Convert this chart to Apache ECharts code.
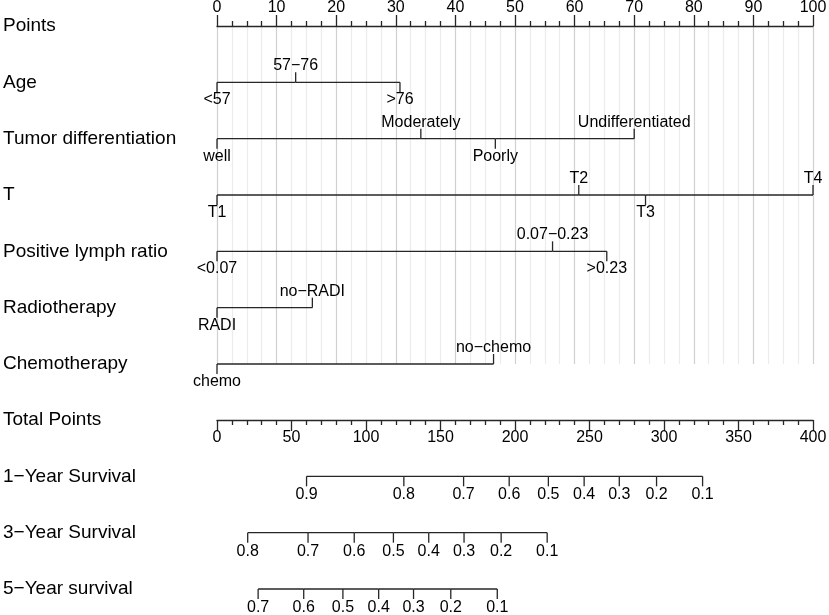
<!DOCTYPE html>
<html>
<head>
<meta charset="utf-8">
<script src="https://cdn.jsdelivr.net/npm/echarts@6/dist/echarts.min.js"></script>
<style>
html, body { margin: 0; padding: 0; background: #fff; }
#chart { width: 829px; height: 615px; }
</style>
</head>
<body>
<div id="chart"></div>
<script>
// row titles
var upperRows = ['Points', 'Age', 'Tumor differentiation', 'T', 'Positive lymph ratio', 'Radiotherapy', 'Chemotherapy'];
var lowerRows = ['Total Points', '1\u2212Year Survival', '3\u2212Year Survival', '5\u2212Year survival'];

// predictor levels and their points (0-100 scale)
var ageLevels = ['<57', '57\u221276', '>76'];
var agePoints = [0, 13.2, 30.7];
var diffLevels = ['well', 'Moderately', 'Poorly', 'Undifferentiated'];
var diffPoints = [0, 34.2, 46.7, 70.0];
var tLevels = ['T1', 'T2', 'T3', 'T4'];
var tPoints = [0, 60.7, 71.9, 100];
var plrLevels = ['<0.07', '0.07\u22120.23', '>0.23'];
var plrPoints = [0, 56.3, 65.4];
var radiLevels = ['RADI', 'no\u2212RADI'];
var radiPoints = [0, 16.0];
var chemoLevels = ['chemo', 'no\u2212chemo'];
var chemoPoints = [0, 46.4];

// survival probabilities placed on the total points scale (0-400)
var surv1Labels = ['0.9', '0.8', '0.7', '0.6', '0.5', '0.4', '0.3', '0.2', '0.1'];
var surv1Total = [60.1, 125.4, 165.5, 196.1, 222.4, 246.4, 270.0, 295.0, 325.9];
var surv3Labels = ['0.8', '0.7', '0.6', '0.5', '0.4', '0.3', '0.2', '0.1'];
var surv3Total = [20.6, 61.1, 92.1, 118.4, 142.1, 165.8, 190.7, 221.6];
var surv5Labels = ['0.7', '0.6', '0.5', '0.4', '0.3', '0.2', '0.1'];
var surv5Total = [27.6, 58.2, 84.5, 108.5, 131.9, 156.9, 188.1];

var FONT = '"Liberation Sans", Arial, sans-serif';
var INK = '#262626';

var myChart = echarts.init(document.getElementById('chart'));

// one scale row: horizontal segment + ticks + labels
function scaleRow(gridIdx, row, labels, values, alternate) {
    return {
        type: 'custom',
        xAxisIndex: gridIdx,
        yAxisIndex: gridIdx,
        clip: false,
        silent: true,
        data: values.map(function (v) { return [v, row]; }),
        renderItem: function (params, api) {
            var i = params.dataIndex;
            var p = api.coord([api.value(0), api.value(1)]);
            var up = alternate && i % 2 === 1;
            var dir = up ? -1 : 1;
            var kids = [{
                type: 'line',
                shape: { x1: p[0], y1: p[1], x2: p[0], y2: p[1] + dir * 10 },
                style: { stroke: INK, lineWidth: 1.3 }
            }, {
                type: 'text',
                style: {
                    text: labels[i],
                    x: p[0],
                    y: p[1] + (up ? -16.5 : (alternate ? 17.5 : 18.5)),
                    align: 'center',
                    verticalAlign: 'middle',
                    fontSize: 16,
                    fontFamily: FONT,
                    fill: '#000'
                }
            }];
            if (i < values.length - 1) {
                var q = api.coord([values[i + 1], row]);
                kids.push({
                    type: 'line',
                    shape: { x1: p[0], y1: p[1], x2: q[0], y2: q[1] },
                    style: { stroke: INK, lineWidth: 1.3 }
                });
            }
            return { type: 'group', children: kids };
        }
    };
}

function rowAxis(gridIdx, names) {
    return {
        gridIndex: gridIdx,
        type: 'value',
        min: 0,
        max: names.length - 1,
        interval: 1,
        inverse: true,
        axisLine: { show: false },
        axisTick: { show: false },
        splitLine: { show: false },
        axisLabel: {
            formatter: function (v) { return names[v] || ''; },
            align: 'left',
            margin: 214,
            fontSize: 19,
            fontFamily: FONT,
            color: '#000'
        }
    };
}

option = {
    backgroundColor: '#fff',
    animation: false,
    textStyle: { fontFamily: FONT },
    grid: [
        { left: 217, right: 16, top: 26, height: 338, outerBoundsMode: 'none' },
        { left: 217, right: 16, top: 420, height: 169, outerBoundsMode: 'none' }
    ],
    xAxis: [{
        gridIndex: 0,
        type: 'value',
        position: 'top',
        min: 0,
        max: 100,
        interval: 10,
        axisLine: { show: true, onZero: false, lineStyle: { color: INK, width: 1.3 } },
        axisTick: { show: true, inside: false, length: 11, lineStyle: { color: INK, width: 1.3 } },
        minorTick: { show: true, splitNumber: 4, length: 5, lineStyle: { color: INK, width: 1.3 } },
        axisLabel: { margin: 10, fontSize: 16, color: '#000', fontFamily: FONT },
        splitLine: { show: true, lineStyle: { color: '#d0d0d0', width: 1.2 } },
        minorSplitLine: { show: true, lineStyle: { color: '#ececec', width: 1.2 } }
    }, {
        gridIndex: 1,
        type: 'value',
        position: 'top',
        min: 0,
        max: 400,
        interval: 50,
        axisLine: { show: true, onZero: false, lineStyle: { color: INK, width: 1.3 } },
        axisTick: { show: true, inside: true, length: 11, lineStyle: { color: INK, width: 1.3 } },
        minorTick: { show: true, splitNumber: 5, length: 5, lineStyle: { color: INK, width: 1.3 } },
        axisLabel: { inside: true, margin: 10, fontSize: 16, color: '#000', fontFamily: FONT },
        splitLine: { show: false }
    }],
    yAxis: [rowAxis(0, upperRows), rowAxis(1, lowerRows)],
    series: [
        scaleRow(0, 1, ageLevels, agePoints, true),
        scaleRow(0, 2, diffLevels, diffPoints, true),
        scaleRow(0, 3, tLevels, tPoints, true),
        scaleRow(0, 4, plrLevels, plrPoints, true),
        scaleRow(0, 5, radiLevels, radiPoints, true),
        scaleRow(0, 6, chemoLevels, chemoPoints, true),
        scaleRow(1, 1, surv1Labels, surv1Total, false),
        scaleRow(1, 2, surv3Labels, surv3Total, false),
        scaleRow(1, 3, surv5Labels, surv5Total, false)
    ]
};
myChart.setOption(option);
</script>
</body>
</html>
